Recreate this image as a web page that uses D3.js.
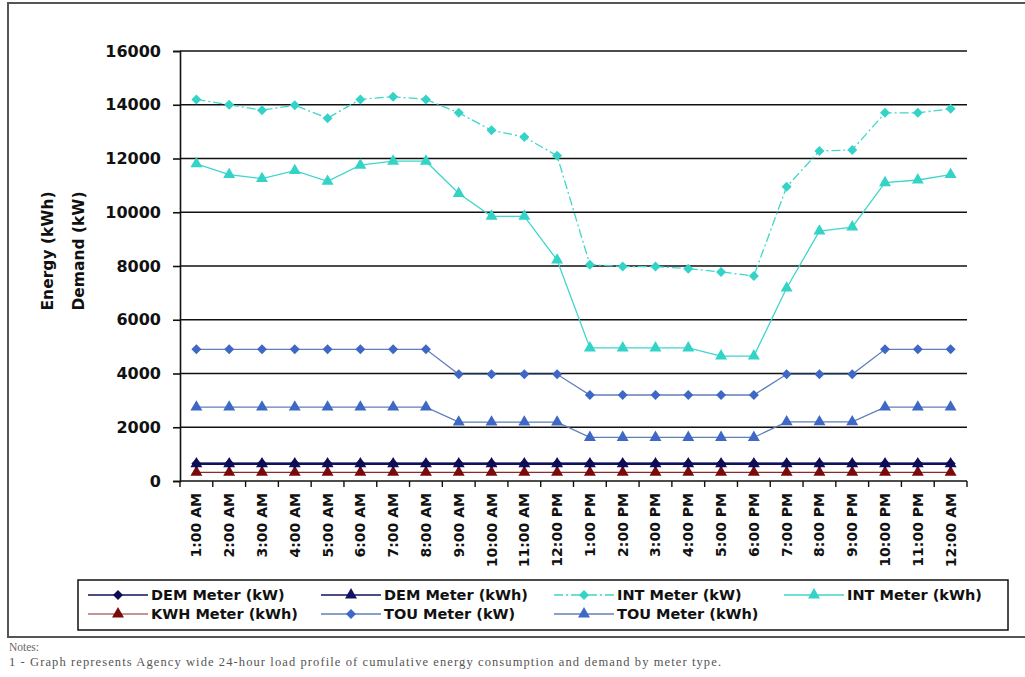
<!DOCTYPE html>
<html>
<head>
<meta charset="utf-8">
<script src="https://cdn.jsdelivr.net/npm/d3@7"></script>
<style>
  html, body { margin: 0; padding: 0; background: #fff; }
  svg { display: block; }
</style>
</head>
<body>
<svg id="chart" width="1025" height="677"></svg>
<script>
const categories = ["1:00 AM","2:00 AM","3:00 AM","4:00 AM","5:00 AM","6:00 AM","7:00 AM","8:00 AM","9:00 AM","10:00 AM","11:00 AM","12:00 PM",
  "1:00 PM","2:00 PM","3:00 PM","4:00 PM","5:00 PM","6:00 PM","7:00 PM","8:00 PM","9:00 PM","10:00 PM","11:00 PM","12:00 AM"];
const yTicks = [0,2000,4000,6000,8000,10000,12000,14000,16000];

const demKW  = [650,650,650,650,650,650,650,650,650,650,650,650,650,650,650,650,650,650,650,650,650,650,650,650];
const demKWh = [640,640,640,640,640,640,640,640,640,640,640,640,640,640,640,640,640,640,640,640,640,640,640,640];
const intKW  = [14200,14000,13800,13980,13500,14200,14300,14200,13700,13050,12800,12100,8050,7980,7980,7900,7780,7630,10950,12280,12320,13700,13700,13850];
const intKWh = [11800,11400,11250,11550,11150,11750,11900,11900,10700,9850,9850,8220,4950,4950,4950,4950,4650,4650,7180,9300,9450,11100,11200,11400];
const kwhKWh = [320,320,320,320,320,320,320,320,320,320,320,320,320,320,320,320,320,320,320,320,320,320,320,320];
const touKW  = [4900,4900,4900,4900,4900,4900,4900,4900,3970,3970,3970,3970,3200,3200,3200,3200,3200,3200,3970,3970,3970,4900,4900,4900];
const touKWh = [2750,2750,2750,2750,2750,2750,2750,2750,2190,2190,2190,2190,1620,1620,1620,1620,1620,1620,2200,2200,2200,2750,2750,2750];

const seriesNames = ["DEM Meter (kW)","DEM Meter (kWh)","INT Meter (kW)","INT Meter (kWh)","KWH Meter (kWh)","TOU Meter (kW)","TOU Meter (kWh)"];

const series = [
  {name: seriesNames[4], values: kwhKWh, line: "#8b2a2a", marker: "#7a0a0a", shape: "tri", width: 1.2, dash: null},
  {name: seriesNames[5], values: touKW,  line: "#5f7fb8", marker: "#3f68c6", shape: "dia", width: 1.3, dash: null},
  {name: seriesNames[6], values: touKWh, line: "#5f7fb8", marker: "#3f68c6", shape: "tri", width: 1.3, dash: null},
  {name: seriesNames[3], values: intKWh, line: "#3fd6cc", marker: "#33d3c8", shape: "tri", width: 1.3, dash: null},
  {name: seriesNames[2], values: intKW,  line: "#3fd6cc", marker: "#33d3c8", shape: "dia", width: 1.3, dash: "9,3,2,3"},
  {name: seriesNames[1], values: demKWh, line: "#10105e", marker: "#121266", shape: "tri", width: 2.2, dash: null},
  {name: seriesNames[0], values: demKW,  line: "#10105e", marker: "#0d0d55", shape: "dia", width: 2.2, dash: null}
];
const styleByName = {};
series.forEach(s => styleByName[s.name] = s);

const svg = d3.select("#chart");
const font = "'DejaVu Sans', Verdana, sans-serif";

// outer chart border
svg.append("rect").attr("x", 8).attr("y", 3).attr("width", 1040).attr("height", 634)
  .attr("fill", "#fff").attr("stroke", "#555").attr("stroke-width", 2);

const pLeft = 180, pRight = 967, pTop = 51, pBottom = 481;
const x = d3.scaleBand().domain(categories).range([pLeft, pRight]);
const cx = c => x(c) + x.bandwidth() / 2;
const y = d3.scaleLinear().domain([0, 16000]).range([pBottom, pTop]);

// gridlines
svg.append("g").selectAll("line").data(yTicks.filter(t => t > 0)).join("line")
  .attr("x1", pLeft).attr("x2", pRight).attr("y1", d => y(d)).attr("y2", d => y(d))
  .attr("stroke", "#111").attr("stroke-width", 1.6);

// y axis
const yAxis = svg.append("g").attr("transform", `translate(${pLeft},0)`)
  .call(d3.axisLeft(y).tickValues(yTicks).tickSize(7).tickPadding(12).tickFormat(d3.format("d")));
yAxis.select(".domain").attr("stroke", "#111").attr("stroke-width", 1.6);
yAxis.selectAll(".tick line").attr("stroke", "#111").attr("stroke-width", 1.6);
yAxis.selectAll("text").attr("font-family", font).attr("font-weight", "bold")
  .attr("font-size", "16px").attr("fill", "#111");

// x axis (band boundary ticks)
svg.append("line").attr("x1", pLeft).attr("x2", pRight).attr("y1", pBottom).attr("y2", pBottom)
  .attr("stroke", "#111").attr("stroke-width", 1.6);
const bounds = categories.map(c => x(c)).concat([pRight]);
svg.append("g").selectAll("line").data(bounds).join("line")
  .attr("x1", d => d).attr("x2", d => d).attr("y1", pBottom).attr("y2", pBottom + 6)
  .attr("stroke", "#111").attr("stroke-width", 1.4);
svg.append("g").selectAll("text").data(categories).join("text")
  .attr("transform", d => `translate(${cx(d) + 5},${pBottom + 12}) rotate(-90)`)
  .attr("text-anchor", "end")
  .attr("font-family", font).attr("font-weight", "bold").attr("font-size", "14px").attr("fill", "#111")
  .text(d => d);

// y axis title
const yt = svg.append("text").attr("transform", "translate(53,251) rotate(-90)")
  .attr("text-anchor", "middle").attr("font-family", font).attr("font-weight", "bold")
  .attr("font-size", "15.5px").attr("fill", "#111");
yt.append("tspan").attr("x", 0).attr("dy", 0).text("Energy (kWh)");
yt.append("tspan").attr("x", 0).attr("dy", 31).text("Demand (kW)");

// markers
const diamondType = {
  draw(ctx, size) {
    const r = Math.sqrt(size / 2);
    ctx.moveTo(0, -r); ctx.lineTo(r, 0); ctx.lineTo(0, r); ctx.lineTo(-r, 0); ctx.closePath();
  }
};
const diamond = d3.symbol().type(diamondType).size(50);
const triangle = d3.symbol().type(d3.symbolTriangle).size(62);
function drawMarker(g, shape, color, px, py) {
  g.append("path").attr("d", shape === "dia" ? diamond() : triangle())
    .attr("transform", `translate(${px},${py})`).attr("fill", color);
}

// series
const lineGen = d3.line().x(d => cx(d.c)).y(d => y(d.v));
series.forEach(s => {
  const pts = categories.map((c, i) => ({c, v: s.values[i]}));
  const g = svg.append("g");
  g.append("path").datum(pts).attr("d", lineGen).attr("fill", "none")
    .attr("stroke", s.line).attr("stroke-width", s.width)
    .attr("stroke-dasharray", s.dash);
  pts.forEach(p => drawMarker(g, s.shape, s.marker, cx(p.c), y(p.v)));
});

// legend
svg.append("rect").attr("x", 78).attr("y", 580).attr("width", 930).attr("height", 50)
  .attr("fill", "#fff").attr("stroke", "#111").attr("stroke-width", 1.5);
const legendOrder = [seriesNames[0], seriesNames[1], seriesNames[2], seriesNames[3], seriesNames[4], seriesNames[5], seriesNames[6]];
const colX = [88, 321, 554, 784];
const rowY = [595, 614];
legendOrder.forEach((name, i) => {
  const s = styleByName[name];
  const lx = colX[i % 4], ly = rowY[Math.floor(i / 4)];
  const g = svg.append("g");
  g.append("line").attr("x1", lx).attr("x2", lx + 60).attr("y1", ly).attr("y2", ly)
    .attr("stroke", s.line).attr("stroke-width", Math.min(s.width, 1.5)).attr("stroke-dasharray", s.dash);
  drawMarker(g, s.shape, s.marker, lx + 30, ly);
  g.append("text").attr("x", lx + 63).attr("y", ly + 5)
    .attr("font-family", font).attr("font-weight", "bold").attr("font-size", "14.5px").attr("fill", "#111")
    .text(name);
});

// notes
svg.append("text").attr("x", 9).attr("y", 651).attr("font-family", "'Liberation Serif', serif")
  .attr("font-size", "11.5px").attr("fill", "#666").text("Notes:");
svg.append("text").attr("x", 9).attr("y", 666).attr("font-family", "'Liberation Serif', serif")
  .attr("font-size", "12.5px").attr("fill", "#555").attr("textLength", 712).attr("lengthAdjust", "spacing")
  .text("1 - Graph represents Agency wide 24-hour load profile of cumulative energy consumption and demand by meter type.");
</script>
</body>
</html>
